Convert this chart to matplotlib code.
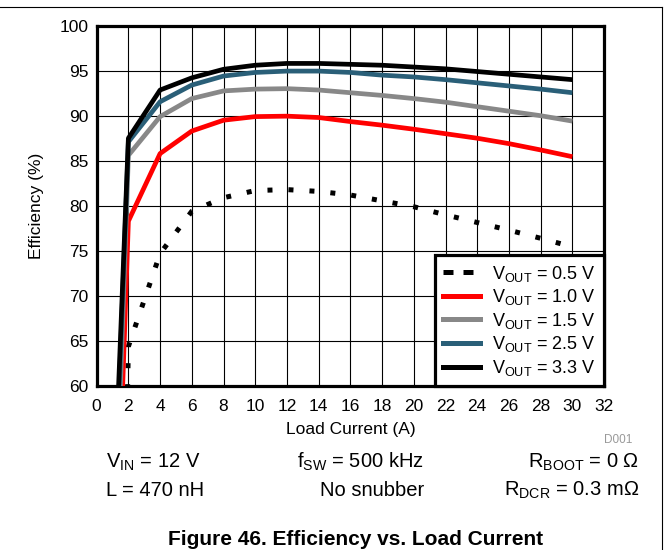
"""
Efficiency vs. load current for five output voltages (Figure 46).
"""

import matplotlib
matplotlib.use("Agg")
import matplotlib.pyplot as plt
from matplotlib.lines import Line2D

plt.rcParams["font.family"] = ["Liberation Sans", "DejaVu Sans"]
plt.rcParams["mathtext.fontset"] = "custom"
plt.rcParams["mathtext.rm"] = "Liberation Sans"
plt.rcParams["mathtext.it"] = "Liberation Sans"

# load current points (A), shared by all curves from 2 A upward
LOAD_A = [2, 4, 6, 8, 10, 12, 14, 16, 18, 20, 22, 24, 26, 28, 30]

# first (light-load) point of each curve, below the 60 % floor
START_A = [1.9, 1.0, 1.0, 1.0, 1.0]
START_EFF = [55.0, 27.5, 35.0, 40.0, 43.0]

EFF_0V5 = [64.4, 74.7, 79.4, 80.9, 81.7, 81.8, 81.6, 81.2, 80.55, 79.9, 79.0, 78.15, 77.3, 76.4, 75.45]
EFF_1V0 = [78.3, 85.8, 88.3, 89.5, 89.9, 89.95, 89.8, 89.35, 88.95, 88.5, 88.0, 87.5, 86.9, 86.2, 85.45]
EFF_1V5 = [85.6, 89.9, 91.9, 92.75, 92.95, 93.0, 92.85, 92.55, 92.25, 91.9, 91.5, 91.0, 90.5, 90.0, 89.4]
EFF_2V5 = [87.1, 91.55, 93.4, 94.4, 94.8, 94.95, 94.95, 94.8, 94.5, 94.3, 94.0, 93.65, 93.3, 92.95, 92.55]
EFF_3V3 = [87.5, 92.85, 94.2, 95.15, 95.6, 95.8, 95.8, 95.7, 95.6, 95.4, 95.2, 94.9, 94.6, 94.3, 94.0]

SERIES = [EFF_0V5, EFF_1V0, EFF_1V5, EFF_2V5, EFF_3V3]
LABELS = ["0.5", "1.0", "1.5", "2.5", "3.3"]
COLORS = ["black", "#ff0000", "#888888", "#2a5f78", "black"]

X_TICKS = list(range(0, 33, 2))
Y_TICKS = list(range(60, 101, 5))


def main():
    fig = plt.figure(figsize=(6.69, 5.5), dpi=100)
    ax = fig.add_axes([0.1445, 0.298, 0.7585, 0.6555])

    handles = []
    for i, eff in enumerate(SERIES):
        xs = [START_A[i]] + LOAD_A
        ys = [START_EFF[i]] + eff
        if i == 0:
            ax.plot(xs, ys, color=COLORS[i], lw=3.6, linestyle=(0, (1, 3.2)),
                    dash_capstyle="butt", zorder=3)
            h = Line2D([], [], color=COLORS[i], lw=3.6, linestyle=(0, (2, 2)),
                       dash_capstyle="butt")
        else:
            ax.plot(xs, ys, color=COLORS[i], lw=3.4, solid_capstyle="butt",
                    zorder=3 + i)
            h = Line2D([], [], color=COLORS[i], lw=3.6)
        handles.append(h)

    ax.set_xlim(0, 32)
    ax.set_ylim(60, 100)
    ax.set_xticks(X_TICKS)
    ax.set_yticks(Y_TICKS)
    ax.grid(True, color="black", lw=0.8, zorder=0)
    ax.set_axisbelow(True)
    ax.tick_params(length=0, labelsize=12.5)
    ax.tick_params(axis="x", pad=9)
    ax.tick_params(axis="y", pad=6)
    for sp in ax.spines.values():
        sp.set_linewidth(2.3)

    ax.set_xlabel("Load Current (A)", fontsize=12.5, labelpad=6)
    ax.set_ylabel("Efficiency (%)", fontsize=12.5, labelpad=11)

    leg = ax.legend(handles, [r"V$_{\mathrm{OUT}}$ = %s V" % v for v in LABELS],
                    loc="lower right", borderaxespad=0, fontsize=13,
                    fancybox=False, framealpha=1, edgecolor="black",
                    handlelength=2.0, labelspacing=0.2, borderpad=0.45,
                    handletextpad=0.7)
    leg.get_frame().set_linewidth(2.3)
    leg.set_zorder(10)

    # notes under the plot
    fig.text(0.945, 0.1945, "D001", fontsize=8.5, color="#999999",
             ha="right", va="baseline")
    fig.text(0.158, 0.149, r"V$_{\mathrm{IN}}$ = 12 V", fontsize=14.5, va="baseline")
    fig.text(0.158, 0.098, "L = 470 nH", fontsize=14.5, va="baseline")
    fig.text(0.634, 0.149, r"f$_{\mathrm{SW}}$ = 500 kHz", fontsize=14.5,
             ha="right", va="baseline")
    fig.text(0.634, 0.098, "No snubber", fontsize=14.5, ha="right", va="baseline")
    fig.text(0.955, 0.149, r"R$_{\mathrm{BOOT}}$ = 0 Ω", fontsize=14.5,
             ha="right", va="baseline")
    fig.text(0.955, 0.098, r"R$_{\mathrm{DCR}}$ = 0.3 mΩ", fontsize=14.5,
             ha="right", va="baseline")
    fig.text(0.531, 0.009, "Figure 46. Efficiency vs. Load Current", fontsize=15,
             fontweight="bold", ha="center", va="baseline")

    # page frame lines (top and right)
    fig.add_artist(Line2D([0, 0.9895], [0.987, 0.987], color="black", lw=0.8,
                          transform=fig.transFigure))
    fig.add_artist(Line2D([0.9895, 0.9895], [0, 0.987], color="black", lw=0.8,
                          transform=fig.transFigure))

    fig.savefig("out.png", dpi=100)
    plt.close(fig)


if __name__ == "__main__":
    main()
